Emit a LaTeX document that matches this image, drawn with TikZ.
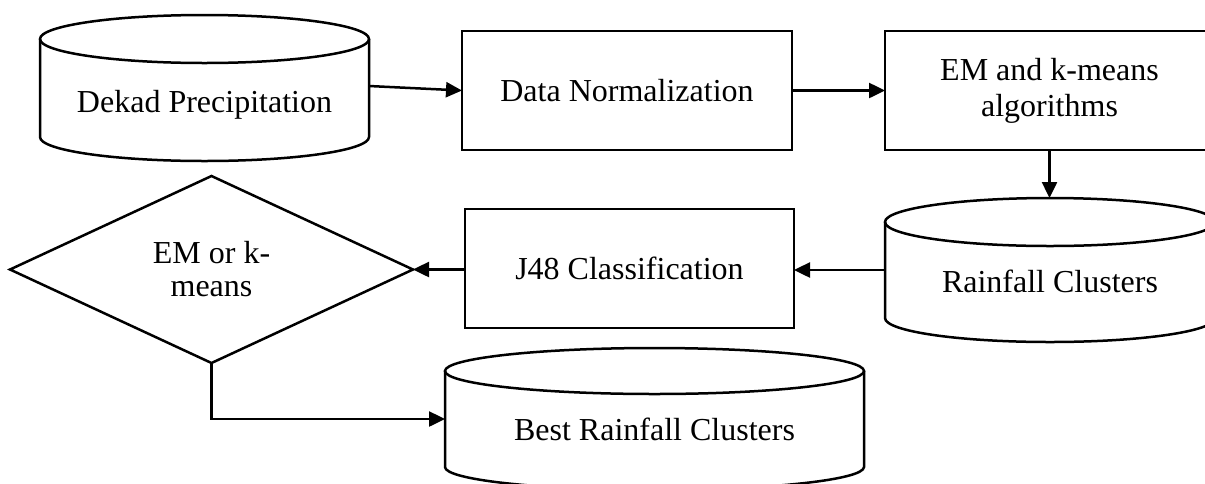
\documentclass[tikz,border=0pt]{standalone}
\usepackage{fontspec}
\setmainfont{Liberation Serif}
\usetikzlibrary{shapes.geometric,arrows.meta,calc}
\tikzset{
  ln/.style={line width=2.5pt},
  box/.style={draw, line width=2.5pt, rectangle, inner sep=0pt, outer sep=0pt,
    font=\fontsize{32}{36}\selectfont, align=center},
  cylbody/.style={draw=none, rectangle, inner sep=0pt, outer sep=0pt},
  cyltext/.style={anchor=base, inner sep=0pt, font=\fontsize{32}{36}\selectfont},
  decision/.style={draw, diamond, line width=2.5pt, inner sep=0pt, outer sep=0pt,
    font=\fontsize{32}{33}\selectfont, align=center},
  flow/.style={line width=2.5pt, -{Triangle[length=16pt,width=15pt]}},
}
% #1 node name, #2 x radius (pt), #3 y radius (pt)
\newcommand\cylout[3]{%
  \draw[ln] ([yshift=-#3pt]#1.north west) -- ([yshift=#3pt]#1.south west)
    arc[start angle=180, end angle=360, x radius=#2pt, y radius=#3pt]
    -- ([yshift=-#3pt]#1.north east);
  \draw[ln] ([yshift=-#3pt]#1.north) ellipse[x radius=#2pt, y radius=#3pt];
}
\begin{document}
\begin{tikzpicture}[x=1pt,y=-1pt]
\useasboundingbox (0,0) rectangle (1205,483);
\clip (0,0) rectangle (1205,483);
\fill[white] (0,0) rectangle (1205,483);

% Dekad Precipitation cylinder
\node[cylbody, minimum width=329pt, minimum height=146pt] (dekad) at (204.5,88) {};
\cylout{dekad}{164.5}{24}
\node[cyltext] (dekadt) at (204.5,112) {Dekad Precipitation};

% Data Normalization
\node[box, minimum width=330pt, minimum height=119pt] (norm) at (627,90.5) {Data Normalization};

% EM and k-means algorithms
\node[box, minimum width=329pt, minimum height=119pt] (em) at (1049.5,90.5) {EM and k-means\\algorithms};

% Rainfall Clusters cylinder
\node[cylbody, minimum width=330pt, minimum height=144pt] (rain) at (1050,270) {};
\cylout{rain}{165}{24}
\node[cyltext] (raint) at (1050,292) {Rainfall Clusters};

% J48 Classification
\node[box, minimum width=329pt, minimum height=119pt] (j48) at (629.5,268.5) {J48 Classification};

% Decision diamond
\node[decision, minimum width=403pt, minimum height=187pt, aspect=2.155] (dia) at (211.5,269.5) {EM or k-\\means};

% Best Rainfall Clusters cylinder
\node[cylbody, minimum width=419pt, minimum height=142pt] (best) at (654.5,419) {};
\cylout{best}{209.5}{23}
\node[cyltext] (bestt) at (654.5,440) {Best Rainfall Clusters};

% Connectors
\draw[flow] ([yshift=2pt]dekad.east) -- (norm.west);
\draw[flow] (norm.east) -- (em.west);
\draw[flow] (em.south) -- (em.south |- rain.north);
\draw[flow] (rain.west) -- (rain.west -| j48.east);
\draw[flow] (dia.east -| j48.west) -- (dia.east);
\draw[flow] (dia.south) |- (best.west);
\end{tikzpicture}
\end{document}
